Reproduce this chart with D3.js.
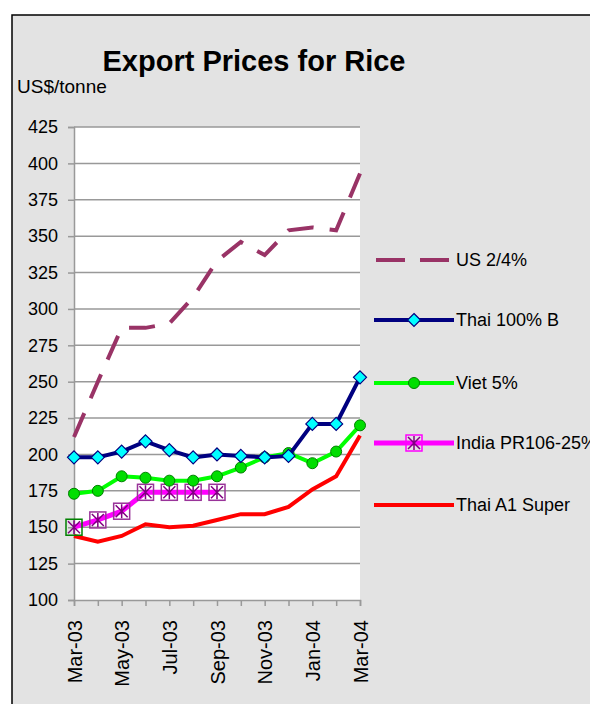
<!DOCTYPE html>
<html>
<head>
<meta charset="utf-8">
<script src="https://cdn.jsdelivr.net/npm/d3@7"></script>
<style>
    body { margin: 0; background: #fff; }
    svg { display: block; font-family: "Liberation Sans", Arial, sans-serif; }
    .tick text { fill: #000; }
</style>
</head>
<body>
<div id="chart"></div>
<script>
const months = ["Mar-03", "Apr-03", "May-03", "Jun-03", "Jul-03", "Aug-03", "Sep-03",
    "Oct-03", "Nov-03", "Dec-03", "Jan-04", "Feb-04", "Mar-04"];
const yTicks = [100, 125, 150, 175, 200, 225, 250, 275, 300, 325, 350, 375, 400, 425];

const us24 = [212, 250, 287, 287, 290, 308, 333, 346, 337, 354, 356, 354, 393];
const thai100B = [198, 198, 202, 209, 203, 198, 200, 199, 198, 199, 221, 221, 253];
const viet5 = [173, 175, 185, 184, 182, 182, 185, 191, 198, 201, 194, 202, 220];
const india25 = [150, 155, 161, 174, 174, 174, 174, null, null, null, null, null, null];
const thaiA1 = [144, 140, 144, 152, 150, 151, 155, 159, 159, 164, 176, 185, 213];

const seriesNames = ["US 2/4%", "Thai 100% B", "Viet 5%", "India PR106-25%", "Thai A1 Super"];

const width = 590,
    height = 704;
const plotLeft = 74, plotRight = 360, plotTop = 127, plotBottom = 600;

const svg = d3.select("#chart").append("svg")
    .attr("width", width)
    .attr("height", height);

// chart area background + frame
svg.append("rect")
    .attr("x", 12).attr("y", 15)
    .attr("width", width).attr("height", height)
    .attr("fill", "#e3e3e3")
    .attr("stroke", "#000")
    .attr("stroke-width", 1.5);

svg.append("rect")
    .attr("x", plotLeft).attr("y", plotTop)
    .attr("width", plotRight - plotLeft).attr("height", plotBottom - plotTop)
    .attr("fill", "#fff");

const x = d3.scalePoint().domain(months).range([plotLeft, plotRight]);
const y = d3.scaleLinear().domain([100, 425]).range([plotBottom, plotTop]);

// gridlines
svg.append("g")
    .selectAll("line")
    .data(yTicks.slice(1))
    .enter().append("line")
    .attr("x1", plotLeft).attr("x2", plotRight)
    .attr("y1", d => y(d)).attr("y2", d => y(d))
    .attr("stroke", "#999")
    .attr("stroke-width", 1.5);

// y axis
const yAxis = svg.append("g")
    .attr("transform", "translate(" + plotLeft + ",0)")
    .call(d3.axisLeft(y).tickValues(yTicks).tickSize(6).tickPadding(10));
yAxis.select(".domain").attr("stroke", "#999").attr("stroke-width", 1.5);
yAxis.selectAll(".tick line").attr("stroke", "#999").attr("stroke-width", 1.5);
yAxis.selectAll(".tick text").style("font-size", "18px");

// x axis
const xAxis = svg.append("g")
    .attr("transform", "translate(0," + plotBottom + ")")
    .call(d3.axisBottom(x).tickSize(6).tickFormat((d, i) => i % 2 === 0 ? d : ""));
xAxis.select(".domain").attr("stroke", "#999").attr("stroke-width", 1.5);
xAxis.selectAll(".tick line").attr("stroke", "#999").attr("stroke-width", 1.5);
xAxis.selectAll(".tick text")
    .style("font-size", "20px")
    .attr("transform", "rotate(-90)")
    .attr("text-anchor", "end")
    .attr("x", -20)
    .attr("y", 0)
    .attr("dy", "0.35em");

// title & unit
svg.append("text")
    .attr("x", 254).attr("y", 71)
    .attr("text-anchor", "middle")
    .style("font-size", "29px")
    .style("font-weight", "bold")
    .text("Export Prices for Rice");

svg.append("text")
    .attr("x", 17).attr("y", 93)
    .style("font-size", "19px")
    .text("US$/tonne");

const line = d3.line()
    .defined(d => d != null)
    .x((d, i) => x(months[i]))
    .y(d => y(d));

function pts(values) {
    return values.map((v, i) => ({ m: months[i], v: v })).filter(d => d.v != null);
}

// US 2/4%, dashes stretched so the line starts and ends on a dash
const usPath = svg.append("path")
    .datum(us24)
    .attr("d", line)
    .attr("fill", "none")
    .attr("stroke", "#993366")
    .attr("stroke-width", 4);
const dashLen = 26;
const usLen = usPath.node().getTotalLength();
const nDash = Math.round((usLen - dashLen) / 41);
usPath.attr("stroke-dasharray", dashLen + "," + ((usLen - dashLen) / nDash - dashLen));

// Thai A1 Super
svg.append("path")
    .datum(thaiA1)
    .attr("d", line)
    .attr("fill", "none")
    .attr("stroke", "#ff0000")
    .attr("stroke-width", 4);

// India
svg.append("path")
    .datum(india25)
    .attr("d", line)
    .attr("fill", "none")
    .attr("stroke", "#ff00ff")
    .attr("stroke-width", 5);

function asterisk(g, stroke) {
    g.append("rect")
        .attr("x", -8).attr("y", -8).attr("width", 16).attr("height", 16)
        .attr("fill", "none").attr("stroke", stroke).attr("stroke-width", 1.5);
    g.append("path")
        .attr("d", "M-6,-6L6,6M-6,6L6,-6M0,-7L0,7")
        .attr("stroke", "#800080").attr("stroke-width", 1.5);
}

svg.append("g").selectAll("g")
    .data(pts(india25))
    .enter().append("g")
    .attr("transform", d => "translate(" + x(d.m) + "," + y(d.v) + ")")
    .each(function(d, i) { asterisk(d3.select(this), i === 0 ? "#008000" : "#993399"); });

// Viet 5%
svg.append("path")
    .datum(viet5)
    .attr("d", line)
    .attr("fill", "none")
    .attr("stroke", "#00ff00")
    .attr("stroke-width", 4);

svg.append("g").selectAll("circle")
    .data(pts(viet5))
    .enter().append("circle")
    .attr("cx", d => x(d.m)).attr("cy", d => y(d.v))
    .attr("r", 5.5)
    .attr("fill", "#00dd00")
    .attr("stroke", "#008000")
    .attr("stroke-width", 1);

// Thai 100% B
svg.append("path")
    .datum(thai100B)
    .attr("d", line)
    .attr("fill", "none")
    .attr("stroke", "#000080")
    .attr("stroke-width", 4);

const diamond = "M0,-6.5L6.5,0L0,6.5L-6.5,0Z";
svg.append("g").selectAll("path")
    .data(pts(thai100B))
    .enter().append("path")
    .attr("transform", d => "translate(" + x(d.m) + "," + y(d.v) + ")")
    .attr("d", diamond)
    .attr("fill", "#00ffff")
    .attr("stroke", "#000080")
    .attr("stroke-width", 1.2);

// legend
const legendY = [260, 320, 383, 443, 505];
const legend = svg.append("g").selectAll("g")
    .data(seriesNames)
    .enter().append("g")
    .attr("transform", (d, i) => "translate(374," + legendY[i] + ")");

legend.append("text")
    .attr("x", 82)
    .attr("dy", "0.35em")
    .style("font-size", "18px")
    .text(d => d);

legend.append("line")
    .attr("x1", (d, i) => i === 0 ? 2 : 0)
    .attr("x2", 80)
    .attr("stroke", (d, i) => ["#993366", "#000080", "#00ff00", "#ff00ff", "#ff0000"][i])
    .attr("stroke-width", (d, i) => i === 3 ? 5 : 4)
    .attr("stroke-dasharray", (d, i) => i === 0 ? "29,15" : null);

legend.filter((d, i) => i === 1).append("path")
    .attr("transform", "translate(40,0)")
    .attr("d", diamond)
    .attr("fill", "#00ffff").attr("stroke", "#000080").attr("stroke-width", 1.2);

legend.filter((d, i) => i === 2).append("circle")
    .attr("cx", 40).attr("r", 5.5)
    .attr("fill", "#00dd00").attr("stroke", "#008000");

legend.filter((d, i) => i === 3).append("g")
    .attr("transform", "translate(40,0)")
    .each(function() { asterisk(d3.select(this), "#ff00ff"); });
</script>
</body>
</html>
